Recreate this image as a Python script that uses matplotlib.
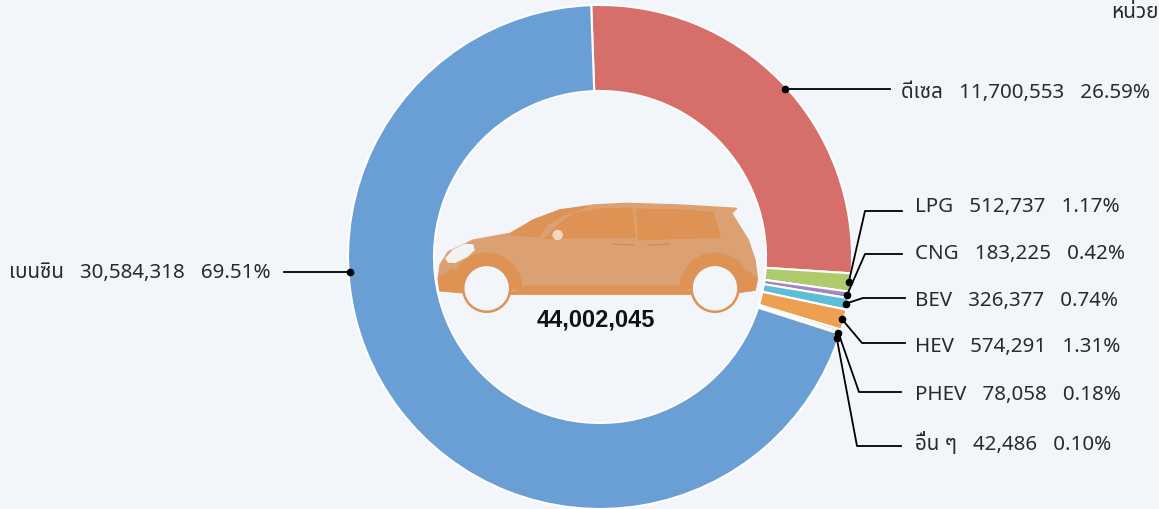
import numpy as np
from matplotlib import pyplot as plt
from matplotlib.patches import Polygon, Circle, Wedge

plt.rcParams['font.family'] = ['Noto Sans Thai', 'Noto Sans', 'Noto Sans CJK SC', 'DejaVu Sans', 'Liberation Sans']

labels = ['ดีเซล', 'LPG', 'CNG', 'BEV', 'HEV', 'PHEV', 'อื่น ๆ', 'เบนซิน']
values = [11700553, 512737, 183225, 326377, 574291, 78058, 42486, 30584318]
percents = ['26.59%', '1.17%', '0.42%', '0.74%', '1.31%', '0.18%', '0.10%', '69.51%']
colors = ['#D66E6A', '#AECB6C', '#A583C4', '#5FBDD9', '#EF9F50', '#C3B6D8', '#D9D9E8', '#6A9FD6']
total_label = '44,002,045'
unit_label = 'หน่วย'

bg = '#F2F6FB'
W, H = 1159, 509
cx, cy, R = 600, 252, 252

# leader layout in pixels from the top left, None means a straight line from the dot
elbows = [None, (865, 211), (865, 254), (863, 298), (862, 343), (859, 392), (857, 446), None]
line_end = [890, 902, 902, 905, 905, 901, 901, 284]
text_x = [901, 915, 915, 915, 915, 915, 915, 9]
text_y = [93, 207, 254, 301, 347, 395, 443, 273]
# where the dot sits on the slice, as a shift from the middle of the slice (degrees)
dot_shift = [-2, 0, 0, 0, 0, -0.5, -1.2, 3.5]

fig = plt.figure(figsize=(W / 100, H / 100), dpi=100, facecolor=bg)
ax = fig.add_axes([0, 0, 1, 1])
wedges, _ = ax.pie(values, colors=colors, startangle=92, counterclock=False, center=(cx, cy), radius=R,
                   wedgeprops=dict(width=R - 166, edgecolor='white', linewidth=1.5))
ax.set_xlim(0, W)
ax.set_ylim(0, H)
ax.set_aspect('equal')
ax.axis('off')

for i, w in enumerate(wedges):
    mid = (w.theta1 + w.theta2) / 2
    if i == 7:
        # the gasoline dot is on the far left of the ring
        mid = 180
    ang = np.deg2rad(mid + dot_shift[i])
    px = cx + (R - 2) * np.cos(ang)
    py = cy + (R - 2) * np.sin(ang)
    if elbows[i] is None:
        ax.plot([px, line_end[i]], [py, py], color='black', lw=1.3, zorder=5)
    else:
        ex, ey = elbows[i]
        ax.plot([px, ex, line_end[i]], [py, H - ey, H - ey], color='black', lw=1.3, zorder=5)
    ax.plot(px, py, 'o', color='black', ms=4.5, zorder=6)
    ax.text(text_x[i], H - text_y[i], f'{labels[i]}   {values[i]:,}   {percents[i]}', fontsize=14.8,
            color='#2A2A2A', va='center', ha='left')

ax.text(596, H - 320, total_label, fontsize=17, fontweight='bold', family=['Liberation Sans', 'DejaVu Sans'],
        color='#111111', ha='center', va='center')
ax.text(1111, H - 12, unit_label, fontsize=15, color='#2A2A2A', ha='left', va='center', clip_on=True)


# car icon, outline read in the 3x crop of the picture
def car(pts):
    return [(420 + x / 3, H - (190 + y / 3)) for x, y in pts]


light = '#DBA172'
dark = '#DE9254'
body = [(55, 265), (60, 225), (85, 185), (160, 150), (270, 130), (340, 90), (420, 60), (520, 45), (620, 40),
        (780, 45), (950, 55), (935, 70), (985, 150), (1005, 210), (1012, 265), (1005, 300), (950, 308),
        (820, 312), (270, 312), (130, 308), (60, 302)]
ax.add_patch(Polygon(car(body), color=light, zorder=3))
roof = [(270, 135), (340, 90), (420, 60), (500, 50), (430, 75), (380, 105), (355, 140)]
ax.add_patch(Polygon(car(roof), color=dark, zorder=3))
window1 = [(375, 145), (420, 100), (465, 70), (540, 58), (635, 55), (645, 142)]
window2 = [(650, 58), (780, 60), (880, 68), (900, 142), (655, 148)]
ax.add_patch(Polygon(car(window1), color=dark, zorder=3))
ax.add_patch(Polygon(car(window2), color=dark, zorder=3))
sill = [(325, 288), (770, 288), (820, 312), (270, 312)]
ax.add_patch(Polygon(car(sill), color=dark, zorder=3))
front = [(55, 265), (100, 235), (130, 308), (60, 302)]
rear = [(950, 308), (975, 240), (1012, 265), (1005, 300)]
ax.add_patch(Polygon(car(front), color=dark, zorder=3))
ax.add_patch(Polygon(car(rear), color=dark, zorder=3))
for xc in (200, 885):
    cxw, cyw = car([(xc, 295)])[0]
    ax.add_patch(Wedge((cxw, cyw), 35, 0, 180, color=dark, zorder=3.1))
    ax.add_patch(Circle((cxw, cyw), 24, color=dark, zorder=3.2))
    ax.add_patch(Circle((cxw, cyw), 21.5, color=bg, zorder=3.3))
lamp = Polygon(car([(78, 205), (100, 180), (135, 163), (158, 165), (162, 180), (140, 200), (105, 217), (85, 216)]),
               color='#F3F3F3', zorder=3.4)
ax.add_patch(lamp)
ax.add_patch(Circle(car([(413, 135)])[0], 4.5, color='#F0D9BE', zorder=3.4))
ax.plot(*zip(*car([(578, 162), (640, 165)])), color='#C98E5E', lw=1, zorder=3.4)
ax.plot(*zip(*car([(685, 165), (750, 162)])), color='#C98E5E', lw=1, zorder=3.4)

fig.savefig('out.png', dpi=100, facecolor=bg)
